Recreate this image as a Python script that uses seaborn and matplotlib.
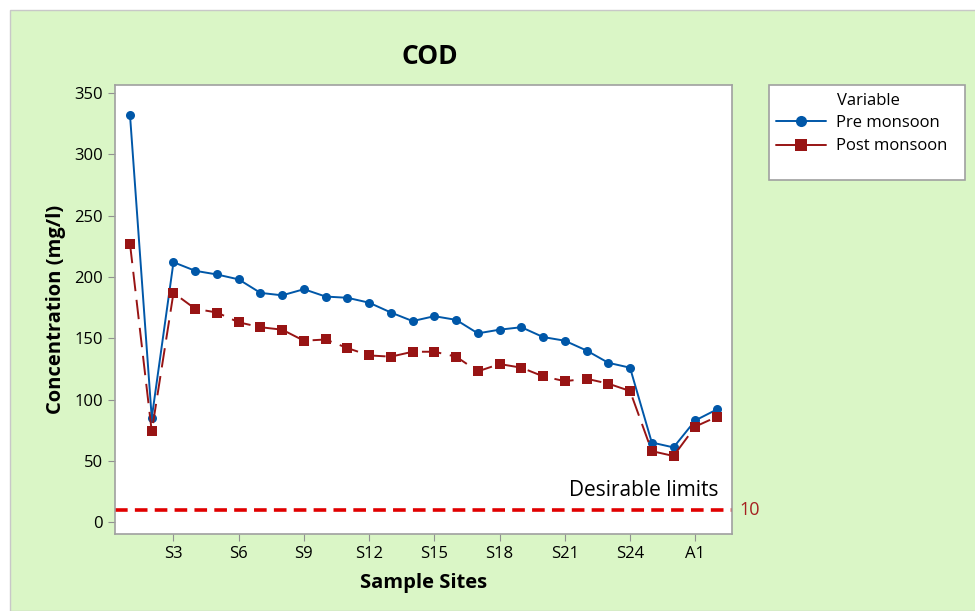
import matplotlib
matplotlib.use('Agg')
import matplotlib.pyplot as plt
from matplotlib.lines import Line2D
from matplotlib.patches import Rectangle
import pandas as pd
import seaborn as sns

# sample sites S1..S26, A1, A2
sites = [f'S{i}' for i in range(1, 27)] + ['A1', 'A2']
pre_monsoon = [332, 85, 212, 205, 202, 198, 187, 185, 190, 184, 183, 179, 171, 164,
               168, 165, 154, 157, 159, 151, 148, 140, 130, 126, 65, 61, 83, 92]
post_monsoon = [227, 74, 187, 174, 171, 163, 159, 157, 148, 149, 142, 136, 135, 139,
                139, 135, 123, 129, 126, 119, 115, 117, 113, 107, 58, 54, 78, 86]
desirable_limit = 10
tick_sites = ['S3', 'S6', 'S9', 'S12', 'S15', 'S18', 'S21', 'S24', 'A1']

df = pd.DataFrame({
    'Site': sites * 2,
    'Concentration': pre_monsoon + post_monsoon,
    'Variable': ['Pre monsoon'] * len(sites) + ['Post monsoon'] * len(sites),
})

sns.set_style('ticks')
plt.rcParams['font.family'] = ['Open Sans', 'DejaVu Sans']
plt.rcParams['text.color'] = 'black'
plt.rcParams['xtick.labelcolor'] = 'black'
plt.rcParams['ytick.labelcolor'] = 'black'
plt.rcParams['axes.labelcolor'] = 'black'

blue = '#0057A8'
red = '#981414'
bg = '#DAF6C6'

fig = plt.figure(figsize=(9.75, 6.11), dpi=100)
fig.patch.set_facecolor('white')
fig.patches.append(Rectangle((10 / 975, 0), 1, 1 - 10 / 611, transform=fig.transFigure,
                             facecolor=bg, edgecolor='#C8C8C8', linewidth=1, zorder=-10))

ax = fig.add_axes([115 / 975, 1 - 534 / 611, (732 - 115) / 975, (534 - 85) / 611])
ax.set_facecolor('white')
ax.set_zorder(2)

sns.lineplot(data=df, x='Site', y='Concentration', hue='Variable', style='Variable',
             palette={'Pre monsoon': blue, 'Post monsoon': red},
             markers={'Pre monsoon': 'o', 'Post monsoon': 's'},
             dashes={'Pre monsoon': '', 'Post monsoon': (10, 4.5)},
             markersize=6.5, markeredgewidth=0, linewidth=1.4, sort=False, ax=ax)
ax.legend_.remove()

ax.axhline(desirable_limit, color='#E00000', linestyle=(0, (3.5, 2)), linewidth=2.6)
ax.text(1.012, desirable_limit, str(desirable_limit), transform=ax.get_yaxis_transform(),
        color='#A52020', fontsize=13, va='center', ha='left')
ax.text(27.05, 26, 'Desirable limits', fontsize=15, ha='right', va='center', color='black')

ax.set_xlim(-0.69, 27.69)
ax.set_ylim(-9.6, 356.5)
ax.set_yticks(range(0, 351, 50))
ax.set_xticks([sites.index(s) for s in tick_sites])
ax.set_xticklabels(tick_sites)
ax.tick_params(axis='both', labelsize=12, length=5, color='#909090', direction='out')

for sp in ax.spines.values():
    sp.set_color('#A0A0A0')
    sp.set_linewidth(1.2)

ax.set_xlabel('Sample Sites', fontsize=14.5, fontweight='bold', labelpad=8)
ax.set_ylabel('Concentration (mg/l)', fontsize=14.5, fontweight='bold', labelpad=6)
fig.text(430 / 975, 1 - 56 / 611, 'COD', fontsize=19, fontweight='bold', ha='center', va='center')

# legend box
fig.patches.append(Rectangle((769 / 975, 1 - 180 / 611), 196 / 975, 95 / 611,
                             transform=fig.transFigure, facecolor='white',
                             edgecolor='#A0A0A0', linewidth=1.2, zorder=1))
handles = [
    Line2D([], [], color=blue, marker='o', markersize=8, markeredgewidth=0, linewidth=1.4),
    Line2D([], [], color=red, marker='s', markersize=8, markeredgewidth=0, linewidth=1.4),
]
fig.text(837 / 975, 1 - 101 / 611, 'Variable', fontsize=12, ha='left', va='center', zorder=3)
leg = fig.legend(handles, ['Pre monsoon', 'Post monsoon'], loc='upper left',
                 bbox_to_anchor=(776 / 975, 1 - 115 / 611), frameon=False, fontsize=12,
                 borderaxespad=0, borderpad=0, handlelength=3.0, handletextpad=0.6,
                 labelspacing=0.45)
leg.set_zorder(3)

fig.savefig('out.png', dpi=100, facecolor=fig.get_facecolor())
